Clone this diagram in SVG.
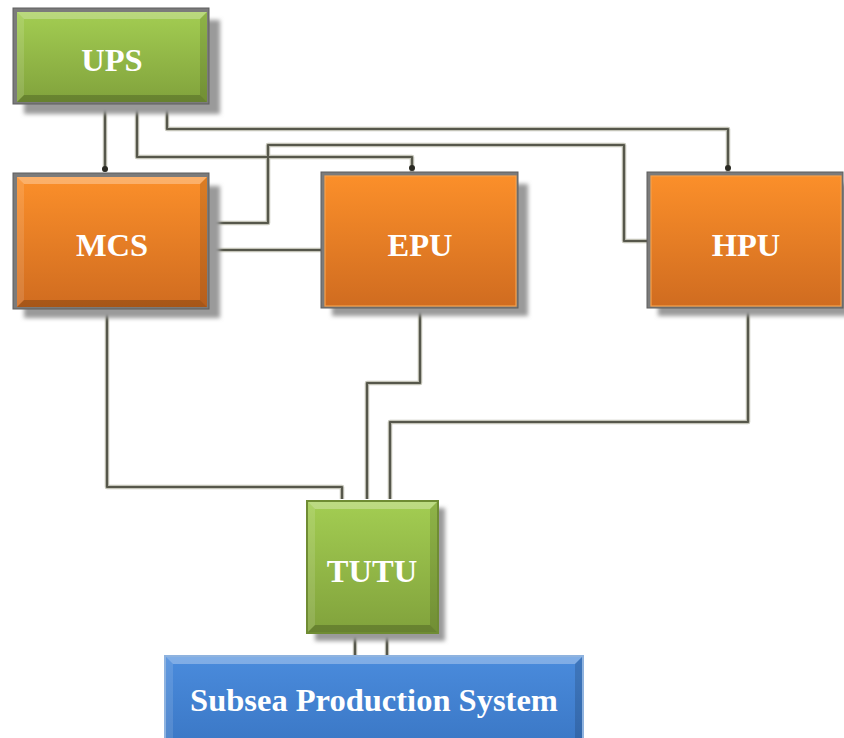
<svg xmlns="http://www.w3.org/2000/svg" width="844" height="738" viewBox="0 0 844 738">
  <defs>
    <linearGradient id="gGreen" x1="0" y1="0" x2="0" y2="1">
      <stop offset="0" stop-color="#a3cd52"/>
      <stop offset="1" stop-color="#81a23c"/>
    </linearGradient>
    <linearGradient id="gOrange" x1="0" y1="0" x2="0" y2="1">
      <stop offset="0" stop-color="#fb8f2a"/>
      <stop offset="1" stop-color="#d06c20"/>
    </linearGradient>
    <linearGradient id="gBlue" x1="0" y1="0" x2="0" y2="1">
      <stop offset="0" stop-color="#4a8bdc"/>
      <stop offset="1" stop-color="#3b78c6"/>
    </linearGradient>
    <filter id="soft" x="-10%" y="-10%" width="130%" height="130%">
      <feGaussianBlur stdDeviation="2"/>
    </filter>
    <marker id="dot" viewBox="0 0 8 8" refX="4" refY="4" markerWidth="8" markerHeight="8" markerUnits="userSpaceOnUse" orient="auto">
      <circle cx="4" cy="4" r="3" fill="#2a2a24"/>
    </marker>
  </defs>
  <style>
    .shadow { fill: #9a9a9a; filter: url(#soft); }
    .frame { fill: #7b7b7b; stroke: #5e5e5e; stroke-width: 1; }
    .lbl { font-family: "Liberation Serif", "Times New Roman", serif; font-weight: bold; fill: #ffffff; text-anchor: middle; font-size: 32.5px; }
    .halo { fill: none; stroke: #c4c4b8; stroke-width: 4.5; stroke-linejoin: round; }
    .wire { fill: none; stroke: #56574b; stroke-width: 2.2; stroke-linejoin: round; }
    .hi { fill: #ffffff; }
    .lo { fill: #000000; }
  </style>

  <rect width="844" height="738" fill="#ffffff"/>

  <!-- connectors -->
  <g id="connectors">
    <g class="halo-set">
      <path class="halo" d="M105,103 V172"/>
      <path class="halo" d="M137,103 V157 H412 V172"/>
      <path class="halo" d="M167,103 V129 H728 V172"/>
      <path class="halo" d="M208,223 H268 V145 H624 V241 H648"/>
      <path class="halo" d="M208,250 H322"/>
      <path class="halo" d="M107,308 V487 H342 V499"/>
      <path class="halo" d="M420,307 V383 H367 V499"/>
      <path class="halo" d="M748,308 V422 H390 V499"/>
      <path class="halo" d="M355,633 V657"/>
      <path class="halo" d="M387,633 V657"/>
    </g>
    <path class="wire" d="M105,103 V169" marker-end="url(#dot)"/>
    <path class="wire" d="M137,103 V157 H412 V168" marker-end="url(#dot)"/>
    <path class="wire" d="M167,103 V129 H728 V168" marker-end="url(#dot)"/>
    <path class="wire" d="M208,223 H268 V145 H624 V241 H648"/>
    <path class="wire" d="M208,250 H322"/>
    <path class="wire" d="M107,308 V487 H342 V499"/>
    <path class="wire" d="M420,307 V383 H367 V499"/>
    <path class="wire" d="M748,308 V422 H390 V499"/>
    <path class="wire" d="M355,633 V657"/>
    <path class="wire" d="M387,633 V657"/>
  </g>

  <!-- UPS -->
  <g id="ups">
    <rect class="shadow" x="24" y="20" width="196" height="94"/>
    <rect class="frame" x="13" y="8" width="196" height="96"/>
    <rect x="17" y="12" width="190" height="90" fill="url(#gGreen)"/>
    <polygon class="hi" opacity="0.25" points="17,12 207,12 200,19 24,19"/>
    <polygon class="hi" opacity="0.12" points="17,12 24,19 24,95 17,102"/>
    <polygon class="lo" opacity="0.12" points="207,12 207,102 200,95 200,19"/>
    <polygon class="lo" opacity="0.2" points="17,102 24,95 200,95 207,102"/>
    <text class="lbl" x="112" y="71">UPS</text>
  </g>

  <!-- MCS -->
  <g id="mcs">
    <rect class="shadow" x="24" y="186" width="196" height="132"/>
    <rect class="frame" x="13" y="173" width="196" height="136"/>
    <rect x="17" y="177" width="190" height="130" fill="url(#gOrange)"/>
    <polygon class="hi" opacity="0.3" points="17,177 207,177 200,184 24,184"/>
    <polygon class="hi" opacity="0.12" points="17,177 24,184 24,300 17,307"/>
    <polygon class="lo" opacity="0.12" points="207,177 207,307 200,300 200,184"/>
    <polygon class="lo" opacity="0.2" points="17,307 24,300 200,300 207,307"/>
    <text class="lbl" x="112" y="256">MCS</text>
  </g>

  <!-- EPU -->
  <g id="epu">
    <rect class="shadow" x="332" y="184" width="196" height="132"/>
    <rect class="frame" x="321" y="172" width="197" height="136"/>
    <rect x="325" y="176" width="191" height="130" fill="url(#gOrange)" stroke="#f7a04a" stroke-width="1.2"/>
    <text class="lbl" x="420" y="256">EPU</text>
  </g>

  <!-- HPU -->
  <g id="hpu">
    <rect class="shadow" x="658" y="184" width="196" height="132"/>
    <rect class="frame" x="647" y="172" width="196" height="136"/>
    <rect x="651" y="176" width="190" height="130" fill="url(#gOrange)" stroke="#f7a04a" stroke-width="1.2"/>
    <text class="lbl" x="746" y="256">HPU</text>
  </g>

  <!-- TUTU -->
  <g id="tutu">
    <rect class="shadow" x="315" y="508" width="130" height="133"/>
    <rect x="306" y="500" width="133" height="134" fill="#6f8c33"/>
    <rect x="308" y="502" width="129" height="130" fill="url(#gGreen)"/>
    <polygon class="hi" opacity="0.28" points="308,502 437,502 430,509 315,509"/>
    <polygon class="hi" opacity="0.12" points="308,502 315,509 315,625 308,632"/>
    <polygon class="lo" opacity="0.12" points="437,502 437,632 430,625 430,509"/>
    <polygon class="lo" opacity="0.2" points="308,632 315,625 430,625 437,632"/>
    <text class="lbl" x="372" y="582">TUTU</text>
  </g>

  <!-- Subsea Production System -->
  <g id="subsea">
    <rect x="164" y="655" width="420" height="90" fill="#8fb3df"/>
    <rect x="166" y="657" width="416" height="86" fill="url(#gBlue)"/>
    <polygon class="hi" opacity="0.3" points="166,657 582,657 575,664 173,664"/>
    <polygon class="hi" opacity="0.12" points="166,657 173,664 173,738 166,738"/>
    <polygon class="lo" opacity="0.14" points="582,657 582,738 575,738 575,664"/>
    <text class="lbl" x="374" y="711">Subsea Production System</text>
  </g>
</svg>
